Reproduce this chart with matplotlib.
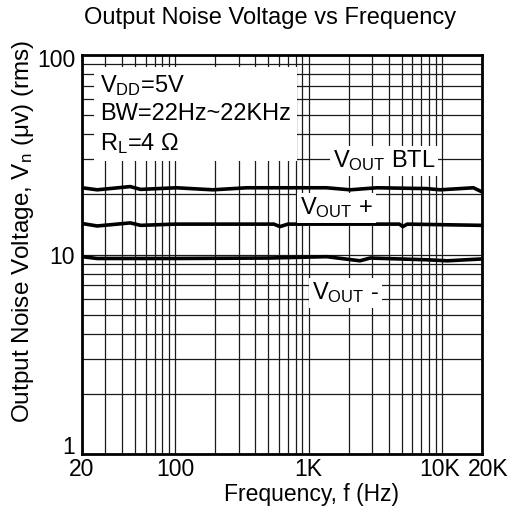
import matplotlib
matplotlib.use('Agg')
import matplotlib.pyplot as plt
from matplotlib.ticker import FixedLocator, NullFormatter
from matplotlib.transforms import ScaledTranslation

plt.rcParams['font.family'] = ['Liberation Sans', 'DejaVu Sans']
plt.rcParams['mathtext.fontset'] = 'custom'
plt.rcParams['mathtext.rm'] = 'Liberation Sans'

# noise readings (uV rms) per output
btl_freq = [20, 26, 46, 55, 102, 192, 344, 1368, 2050, 3250, 7700, 9700, 17250, 20000]
btl_vals = [21.6, 21.1, 21.9, 21.2, 21.6, 21.1, 21.6, 21.6, 21.1, 21.6, 21.4, 21.1, 21.6, 20.6]

pos_freq = [20, 26, 46, 55, 100, 550, 611, 700, 1000, 4800, 5100, 5500, 20000]
pos_vals = [14.3, 13.9, 14.4, 14.0, 14.2, 14.2, 13.8, 14.2, 14.2, 14.2, 13.8, 14.2, 14.0]

neg_freq = [20, 26, 100, 500, 1368, 2430, 2900, 8000, 11000, 20000]
neg_vals = [9.75, 9.55, 9.55, 9.6, 9.75, 9.3, 9.6, 9.4, 9.3, 9.5]

x_ticks = [20, 100, 1000, 10000, 20000]
x_labels = ['20', '100', '1K', '10K', '20K']
y_ticks = [1, 10, 100]
y_labels = ['1', '10', '100']

fig = plt.figure(figsize=(5.13, 5.13), dpi=100)
ax = fig.add_axes([82/513, 1-454/513, 400/513, 399/513])

for f, v in [(btl_freq, btl_vals), (pos_freq, pos_vals), (neg_freq, neg_vals)]:
    ax.plot(f, v, color='black', lw=2.6, zorder=3)

ax.set_xscale('log')
ax.set_yscale('log')
ax.set_xlim(20, 20000)
ax.set_ylim(1, 100)

xminor = [m * 10**e for e in range(1, 5) for m in range(2, 10)]
yminor = [m * 10**e for e in range(0, 2) for m in range(2, 10)]
ax.xaxis.set_major_locator(FixedLocator(x_ticks))
ax.xaxis.set_minor_locator(FixedLocator(xminor))
ax.yaxis.set_major_locator(FixedLocator(y_ticks))
ax.yaxis.set_minor_locator(FixedLocator(yminor))
ax.set_xticklabels(x_labels)
ax.set_yticklabels(y_labels)
ax.xaxis.set_minor_formatter(NullFormatter())
ax.yaxis.set_minor_formatter(NullFormatter())
ax.tick_params(which='both', length=0, labelsize=16.5)
ax.tick_params(axis='x', pad=3)
ax.tick_params(axis='y', pad=5)

# bottom y label sits on the axis line, top one slightly lower
ylabs = ax.get_yticklabels()
ylabs[0].set_va('baseline')
ylabs[2].set_transform(ylabs[2].get_transform() + ScaledTranslation(0, -3/100, fig.dpi_scale_trans))
# 10K / 20K spread apart a little as in the original
xlabs = ax.get_xticklabels()
xlabs[3].set_transform(xlabs[3].get_transform() + ScaledTranslation(-2/100, 0, fig.dpi_scale_trans))
xlabs[4].set_transform(xlabs[4].get_transform() + ScaledTranslation(6/100, 0, fig.dpi_scale_trans))

ax.grid(which='both', color='#1a1a1a', lw=0.9, zorder=1)
for s in ax.spines.values():
    s.set_linewidth(2)

fig.text(311/513, 1-495/513, 'Frequency, f (Hz)', fontsize=16.5, ha='center', va='center')
fig.text(23/513, 1-231/513, r'Output Noise Voltage, V$\mathregular{_n}$ ($\mathregular{\mu}$v) (rms)',
         fontsize=17.5, rotation=90, ha='center', va='center')
fig.text(270/513, 1-18/513, 'Output Noise Voltage vs Frequency', fontsize=17,
         ha='center', va='center')

box = dict(facecolor='white', edgecolor='none', pad=2)
ax.text(0.045, 0.955, 'V$\\mathregular{_{DD}}$=5V\nBW=22Hz~22KHz\nR$\\mathregular{_L}$=4 $\\mathregular{\\Omega}$',
        transform=ax.transAxes, fontsize=17, va='top', ha='left', linespacing=1.3,
        bbox=dict(facecolor='white', edgecolor='none', pad=4), zorder=4)
ax.text(333/513, 1-161/513, r'V$\mathregular{_{OUT}}$ BTL', transform=fig.transFigure,
        fontsize=17, va='center', ha='left', bbox=box, zorder=4)
ax.text(300/513, 1-208/513, r'V$\mathregular{_{OUT}}$ +', transform=fig.transFigure,
        fontsize=17, va='center', ha='left', bbox=box, zorder=4)
ax.text(312/513, 1-293/513, r'V$\mathregular{_{OUT}}$ -', transform=fig.transFigure,
        fontsize=17, va='center', ha='left', bbox=box, zorder=4)

fig.savefig('out.png', dpi=100, facecolor='white')
